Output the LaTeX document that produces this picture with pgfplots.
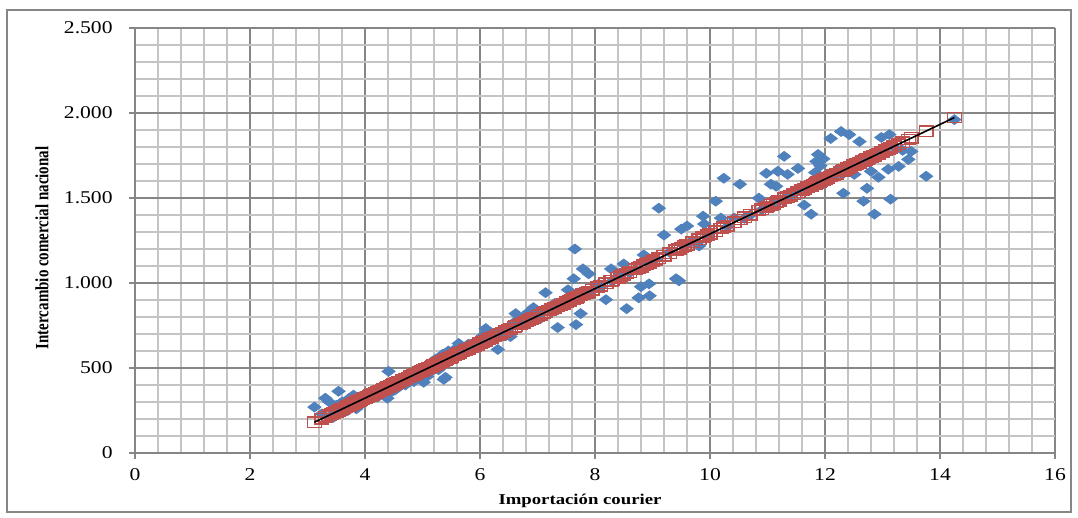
\documentclass[border=0pt]{standalone}
\usepackage{fontspec}
\setmainfont{Liberation Serif}
\usepackage{graphicx}
\usepackage{pgfplots}
\pgfplotsset{compat=1.18}
\usepackage{pgfplotstable}
\definecolor{xblue}{RGB}{79,129,189}
\definecolor{xred}{RGB}{192,80,77}
\definecolor{majgray}{RGB}{134,134,134}
\definecolor{mingray}{RGB}{196,196,196}
\definecolor{framegray}{RGB}{134,134,134}

\pgfplotstableread{
x y yhat
3.12 270 181
3.25 230 202
3.31 322 212
3.38 300 223
3.42 255 230
3.45 210 234
3.50 280 243
3.54 363 249
3.55 240 251
3.60 300 259
3.62 260 262
3.66 285 268
3.70 250 275
3.72 320 278
3.75 270 283
3.78 300 288
3.80 340 291
3.82 290 294
3.85 260 299
3.88 310 304
3.90 330 307
3.92 290 310
3.95 300 315
3.98 320 320
4.00 310 323
4.05 330 331
4.08 350 336
4.10 320 339
4.12 340 342
4.15 360 347
4.18 345 352
4.20 370 355
4.22 330 358
4.25 360 363
4.28 380 368
4.30 350 371
4.32 390 375
4.35 370 379
4.38 340 384
4.39 322 386
4.40 380 387
4.41 480 389
4.42 400 391
4.45 360 395
4.48 390 400
4.50 410 404
4.52 370 407
4.55 420 412
4.58 400 416
4.60 440 420
4.65 430 428
4.70 400 436
4.75 440 444
4.80 460 452
4.85 420 460
4.88 470 465
4.90 450 468
4.95 480 476
4.98 430 481
5.00 470 484
5.02 416 487
5.05 500 492
5.08 450 497
5.10 490 500
5.12 520 503
5.15 480 508
5.18 540 513
5.20 500 516
5.22 550 519
5.25 520 524
5.28 490 529
5.30 560 532
5.32 530 536
5.35 580 540
5.37 433 544
5.40 445 548
5.42 560 552
5.45 600 556
5.48 540 561
5.50 580 565
5.55 560 573
5.60 620 581
5.63 644 585
5.65 590 589
5.70 600 597
5.75 620 605
5.80 640 613
5.85 610 621
5.90 650 629
5.95 630 637
6.00 660 645
6.05 690 653
6.10 732 661
6.15 650 669
6.20 700 677
6.25 680 685
6.31 609 695
6.35 720 701
6.40 700 709
6.45 690 717
6.50 730 726
6.53 685 730
6.60 770 742
6.62 820 745
6.70 760 758
6.75 800 766
6.80 780 774
6.85 830 782
6.90 790 790
6.93 855 795
7.00 810 806
7.05 790 814
7.10 840 822
7.14 943 829
7.20 850 838
7.25 830 846
7.30 880 854
7.35 738 862
7.40 870 870
7.45 900 878
7.50 880 887
7.53 960 891
7.55 920 895
7.60 900 903
7.63 1025 907
7.65 1200 911
7.67 755 914
7.70 940 919
7.75 820 927
7.79 1083 933
7.85 950 943
7.89 1054 949
7.95 960 959
8.05 990 975
8.10 980 983
8.19 902 998
8.28 1083 1012
8.30 1010 1015
8.40 1030 1031
8.45 1050 1039
8.50 1112 1048
8.55 849 1056
8.60 1060 1064
8.70 1080 1080
8.76 913 1089
8.80 978 1096
8.85 1165 1104
8.90 1120 1112
8.94 995 1118
8.95 925 1120
9.00 1130 1128
9.05 1140 1136
9.11 1440 1146
9.20 1282 1160
9.30 1180 1176
9.41 1025 1194
9.46 1013 1202
9.50 1317 1209
9.55 1220 1217
9.60 1335 1225
9.70 1250 1241
9.81 1218 1258
9.88 1393 1270
9.90 1347 1273
9.95 1270 1281
10.00 1300 1289
10.10 1481 1305
10.19 1382 1320
10.24 1616 1328
10.30 1330 1337
10.42 1382 1357
10.52 1581 1373
10.60 1380 1386
10.70 1400 1402
10.85 1499 1426
10.90 1430 1434
10.98 1645 1447
11.00 1450 1450
11.06 1581 1460
11.10 1470 1466
11.15 1569 1474
11.18 1657 1479
11.20 1480 1482
11.29 1745 1497
11.30 1500 1498
11.35 1639 1506
11.40 1510 1514
11.45 1530 1522
11.53 1674 1535
11.60 1540 1547
11.64 1458 1553
11.70 1560 1563
11.76 1405 1572
11.80 1580 1579
11.83 1650 1584
11.85 1715 1587
11.88 1756 1592
11.90 1590 1595
11.92 1690 1598
11.95 1620 1603
11.97 1730 1606
12.00 1600 1611
12.05 1640 1619
12.10 1850 1627
12.15 1630 1635
12.20 1660 1643
12.28 1891 1656
12.30 1640 1659
12.32 1528 1663
12.35 1680 1667
12.40 1660 1675
12.42 1873 1679
12.45 1700 1683
12.50 1680 1692
12.51 1639 1693
12.55 1720 1700
12.60 1832 1708
12.65 1700 1716
12.67 1481 1719
12.70 1740 1724
12.73 1557 1729
12.75 1720 1732
12.80 1657 1740
12.85 1760 1748
12.86 1405 1749
12.90 1750 1756
12.93 1622 1761
12.98 1856 1769
13.00 1780 1772
13.05 1770 1780
13.10 1669 1788
13.12 1873 1791
13.14 1493 1795
13.20 1800 1804
13.28 1686 1817
13.35 1780 1828
13.45 1727 1844
13.50 1774 1853
13.76 1628 1894
14.25 1961 1973
}\data

\begin{document}
\begin{tikzpicture}
\begin{axis}[
  scale only axis, width=460pt, height=212.5pt,
  xmin=0, xmax=16, ymin=0, ymax=2500,
  xtick={0,2,...,16}, ytick={0,500,...,2500},
  minor x tick num=4, minor y tick num=4,
  grid=both,
  major grid style={majgray, line width=1pt},
  minor grid style={mingray, line width=1pt},
  axis x line*=bottom, axis y line*=left,
  axis line style={majgray, line width=1pt},
  tick align=outside, major tick length=3pt, minor tick length=0pt,
  tick style={majgray, line width=1pt},
  clip marker paths=true,
  scaled y ticks=false, scaled x ticks=false,
  /pgf/number format/.cd, 1000 sep={.}, assume math mode=true,
  /pgfplots/.cd,
  xticklabel={\scalebox{1.2}[1]{\pgfmathprintnumber{\tick}}},
  yticklabel={\scalebox{1.2}[1]{\pgfmathprintnumber{\tick}}},
  ticklabel style={font=\fontsize{9}{10}\selectfont, inner sep=0pt},
  xticklabel style={anchor=north, yshift=-4.5pt},
  yticklabel style={anchor=east, xshift=-8pt},
]
\addplot[only marks, mark=diamond*, mark size=3.3pt,
  mark options={rotate=90, fill=xblue, draw=xblue}] table[x=x, y=y] {\data};
\addplot[only marks, mark=square, mark size=2.6pt,
  mark options={xscale=1.33, draw=xred, line width=0.7pt}] table[x=x, y=yhat] {\data};
\addplot[black, line width=0.8pt] coordinates {(3.12,181) (14.25,1973)};
\end{axis}
\node[anchor=base, font=\bfseries\fontsize{7.5}{9}\selectfont] at (222.5pt,-26pt) {\scalebox{1.25}[1]{Importación courier}};
\node[rotate=90, font=\bfseries\fontsize{7.5}{9}\selectfont] at (-46.5pt,102.5pt) {\scalebox{1}[1.25]{Intercambio comercial nacional}};
\draw[framegray, line width=0.6pt] (-64pt,-29.5pt) rectangle (468pt,221.5pt);
\pgfresetboundingbox
\useasboundingbox (-67.5pt,-32.5pt) rectangle (471.5pt,226.5pt);
\end{tikzpicture}
\end{document}
